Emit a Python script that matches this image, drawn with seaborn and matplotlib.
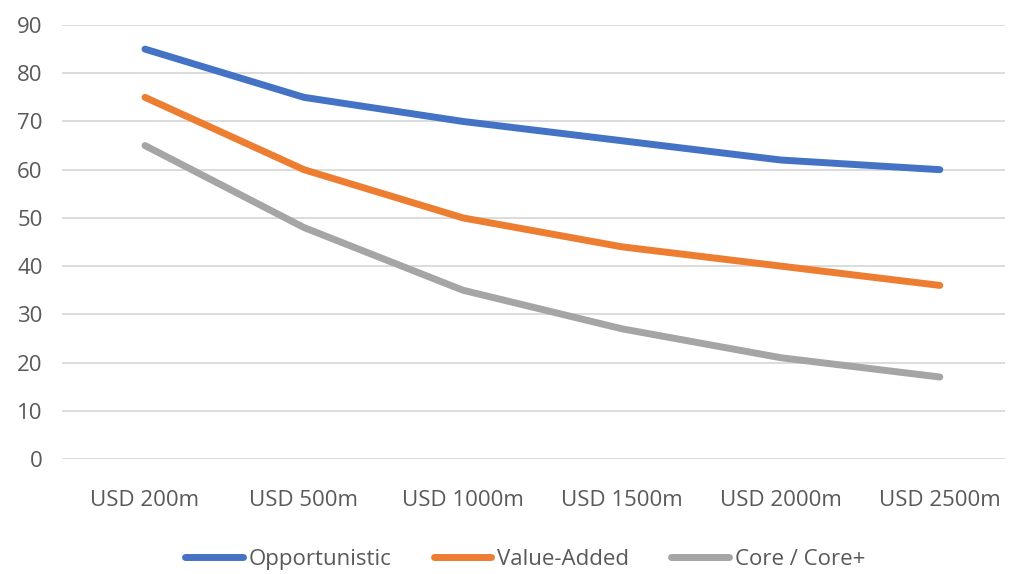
import matplotlib
matplotlib.use("Agg")
import matplotlib.pyplot as plt
import seaborn as sns
import pandas as pd
from matplotlib import font_manager
from matplotlib.lines import Line2D

categories = ["USD 200m", "USD 500m", "USD 1000m", "USD 1500m", "USD 2000m", "USD 2500m"]
opportunistic = [85, 75, 70, 66, 62, 60]
value_added = [75, 60, 50, 44, 40, 36]
core = [65, 48, 35, 27, 21, 17]
series_names = ["Opportunistic", "Value-Added", "Core / Core+"]
colors = ["#4472C4", "#ED7D31", "#A5A5A5"]

sns.set_theme(style="white")
avail = {f.name for f in font_manager.fontManager.ttflist}
fams = [f for f in ["Liberation Sans Narrow", "Open Sans", "DejaVu Sans"] if f in avail]
plt.rcParams["font.family"] = fams

rows = []
for name, vals in zip(series_names, [opportunistic, value_added, core]):
    for i, (c, v) in enumerate(zip(categories, vals)):
        rows.append({"idx": i, "category": c, "value": v, "series": name})
df = pd.DataFrame(rows)

fig = plt.figure(figsize=(10.1, 5.74), dpi=100)
ax = fig.add_axes([62/1010, 1-459/574, (1005-62)/1010, (459-25)/574])

sns.lineplot(data=df, x="idx", y="value", hue="series", palette=colors,
             hue_order=series_names, linewidth=5, ax=ax, legend=False,
             solid_capstyle="round", solid_joinstyle="round")

ax.set_xlim(-0.522, 5.41)
ax.set_ylim(0, 90)
ax.set_yticks(range(0, 91, 10))
ax.set_xticks(range(len(categories)))
ax.set_xticklabels(categories)
ax.set_xlabel("")
ax.set_ylabel("")
ax.grid(axis="y", color="#D9D9D9", linewidth=1.3)
ax.grid(axis="x", visible=False)
for s in ax.spines.values():
    s.set_visible(False)
ax.tick_params(axis="both", length=0, labelsize=16, labelcolor="#595959")
ax.tick_params(axis="y", pad=14)
ax.tick_params(axis="x", pad=22)

handles = [Line2D([0], [0], color=c, linewidth=5, solid_capstyle="round") for c in colors]
fig.legend(handles, series_names, loc="center", bbox_to_anchor=(0.52, 0.025),
           ncol=3, frameon=False, fontsize=16, labelcolor="#595959",
           handlelength=2.6, handletextpad=0.25, columnspacing=1.9)

fig.savefig("out.png", dpi=100)
